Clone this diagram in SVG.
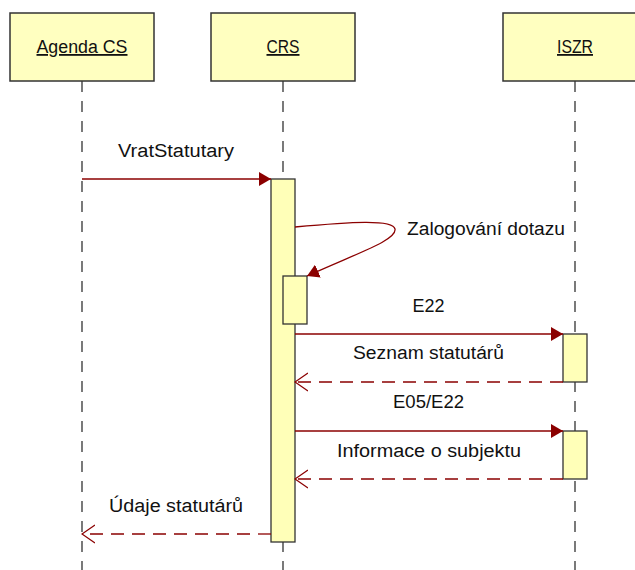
<svg xmlns="http://www.w3.org/2000/svg" width="635" height="570" viewBox="0 0 635 570">
<defs>
<style>
.hdr{fill:#FFFFC0;stroke:#333;stroke-width:1.5}
.act{fill:#FFFFB8;stroke:#333;stroke-width:1.3}
.life{stroke:#333;stroke-width:1.3;stroke-dasharray:11 9;fill:none}
.msg{stroke:#8B0000;stroke-width:1.3;fill:none}
.ret{stroke:#8B0000;stroke-width:1.3;fill:none;stroke-dasharray:13 8}
text{font-family:"Liberation Sans",Arial,sans-serif;font-size:18px;fill:#111}
.u{text-decoration:underline}
</style>
<marker id="fill" viewBox="0 0 12 14" refX="12" refY="7" markerWidth="12" markerHeight="14" markerUnits="userSpaceOnUse" orient="auto">
<path d="M0,0 L12,7 L0,14 Z" fill="#8B0000"/>
</marker>
<marker id="open" viewBox="0 0 14 20" refX="13" refY="10" markerWidth="14" markerHeight="20" markerUnits="userSpaceOnUse" orient="auto">
<path d="M0,1 L13,10 L0,19" fill="none" stroke="#8B0000" stroke-width="1.3"/>
</marker>
</defs>
<rect width="635" height="570" fill="#fff"/>

<g id="lifelines">
<line class="life" x1="82" y1="81" x2="82" y2="570"/>
<line class="life" x1="283" y1="81" x2="283" y2="570"/>
<line class="life" x1="575" y1="81" x2="575" y2="570"/>
</g>

<g id="node-agenda">
<rect class="hdr" x="10" y="13" width="144" height="68"/>
<text class="u" x="82" y="53" text-anchor="middle" textLength="91" lengthAdjust="spacingAndGlyphs">Agenda CS</text>
</g>
<g id="node-crs">
<rect class="hdr" x="211" y="13" width="144" height="68"/>
<text class="u" x="283" y="53" text-anchor="middle" textLength="33" lengthAdjust="spacingAndGlyphs">CRS</text>
</g>
<g id="node-iszr">
<rect class="hdr" x="503" y="13" width="144" height="68"/>
<text class="u" x="575" y="53" text-anchor="middle" textLength="36" lengthAdjust="spacingAndGlyphs">ISZR</text>
</g>

<g id="activations">
<rect id="act-crs" class="act" x="271" y="179" width="24" height="363"/>
<rect id="act-crs-nested" class="act" x="283" y="276" width="24" height="48"/>
<rect id="act-iszr-1" class="act" x="563" y="334" width="24" height="48"/>
<rect id="act-iszr-2" class="act" x="563" y="431" width="24" height="48"/>
</g>

<g id="connectors">
<line class="msg" x1="82" y1="179" x2="271" y2="179" marker-end="url(#fill)"/>
<path class="msg" d="M295,227 C350,222 393,219 395,229 C397,240 360,252 307,276" marker-end="url(#fill)"/>
<line class="msg" x1="295" y1="334" x2="563" y2="334" marker-end="url(#fill)"/>
<line class="ret" x1="563" y1="382" x2="295" y2="382" marker-end="url(#open)"/>
<line class="msg" x1="295" y1="431" x2="563" y2="431" marker-end="url(#fill)"/>
<line class="ret" x1="563" y1="479" x2="295" y2="479" marker-end="url(#open)"/>
<line class="ret" x1="271" y1="534" x2="82" y2="534" marker-end="url(#open)"/>
</g>

<g id="labels">
<text x="176" y="157" text-anchor="middle" textLength="116" lengthAdjust="spacingAndGlyphs">VratStatutary</text>
<text x="407" y="235" textLength="158" lengthAdjust="spacingAndGlyphs">Zalogování dotazu</text>
<text x="428.5" y="312" text-anchor="middle" textLength="32" lengthAdjust="spacingAndGlyphs">E22</text>
<text x="428.5" y="359" text-anchor="middle" textLength="151" lengthAdjust="spacingAndGlyphs">Seznam statutárů</text>
<text x="428.5" y="408" text-anchor="middle" textLength="71" lengthAdjust="spacingAndGlyphs">E05/E22</text>
<text x="429" y="457" text-anchor="middle" textLength="184" lengthAdjust="spacingAndGlyphs">Informace o subjektu</text>
<text x="176" y="512" text-anchor="middle" textLength="134" lengthAdjust="spacingAndGlyphs">Údaje statutárů</text>
</g>
</svg>
